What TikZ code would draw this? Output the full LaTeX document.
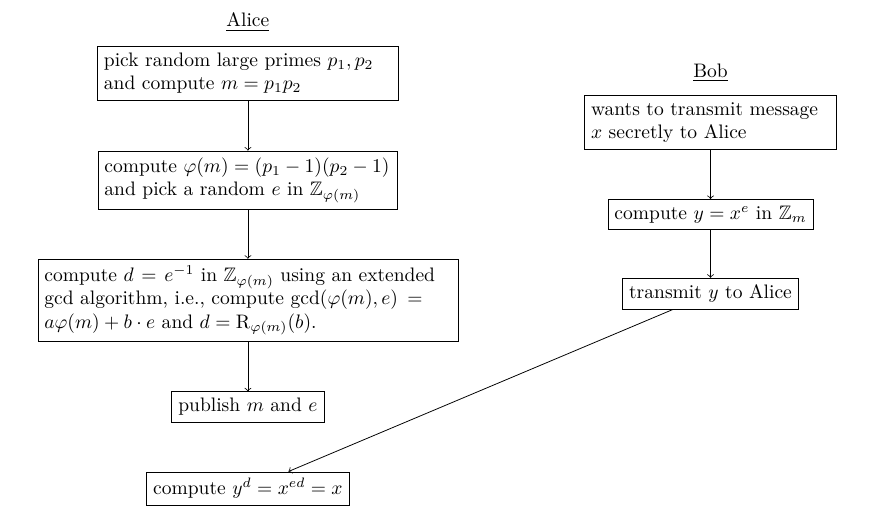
\documentclass[tikz,border=0pt]{standalone}
\usepackage{amsmath,amssymb}
\usetikzlibrary{calc}
\tikzset{
  step box/.style={draw, inner sep=3.33pt},
  wide box/.style={step box, text width=#1},
  party/.style={inner sep=2pt}
}
\begin{document}
\begin{tikzpicture}[x=1pt,y=1pt]

\useasboundingbox (0,0) rectangle (458.5,-265.4);

% Alice's side
\node [party] (alice) at (127,-11.3) {\underline{Alice}};
\node [wide box=147.5pt] (primes) at (127,-37.4)
  {pick random large primes $p_1,p_2$\\ and compute $m=p_1p_2$};
\node [wide box=147pt] (phi) at (127,-92.2)
  {compute $\varphi(m)=(p_1-1)(p_2-1)$\\ and pick a random $e$ in $\mathbb{Z}_{\varphi(m)}$};
\node [wide box=208.5pt] (inverse) at (127,-153.95)
  {compute $d=e^{-1}$ in $\mathbb{Z}_{\varphi(m)}$ using an extended\linebreak
   gcd algorithm, i.e., compute $\gcd(\varphi(m),e)=$\linebreak
   $a\varphi(m)+b\cdot e$ and $d=\mathrm{R}_{\varphi(m)}(b)$.};
\node [step box] (publish) at (127,-208.5) {publish $m$ and $e$};
\node [step box] (decrypt) at (127,-250.3) {compute $y^d=x^{ed}=x$};

% Bob's side
\node [party] (bob) at (364,-37.4) {\underline{Bob}};
\node [wide box=122.4pt] (message) at (364,-62.75)
  {wants to transmit message\\ $x$ secretly to Alice};
\node [step box] (encrypt) at (364,-109.9) {compute $y=x^e$ in $\mathbb{Z}_m$};
\node [step box] (transmit) at (364,-150.4) {transmit $y$ to Alice};

% Draw the arrows
\draw [->] (primes) -- (phi);
\draw [->] (phi) -- (inverse);
\draw [->] (inverse) -- (publish);
\draw [->] (message) -- (encrypt);
\draw [->] (encrypt) -- (transmit);
\draw [->] (transmit) -- (decrypt);

\end{tikzpicture}
\end{document}
